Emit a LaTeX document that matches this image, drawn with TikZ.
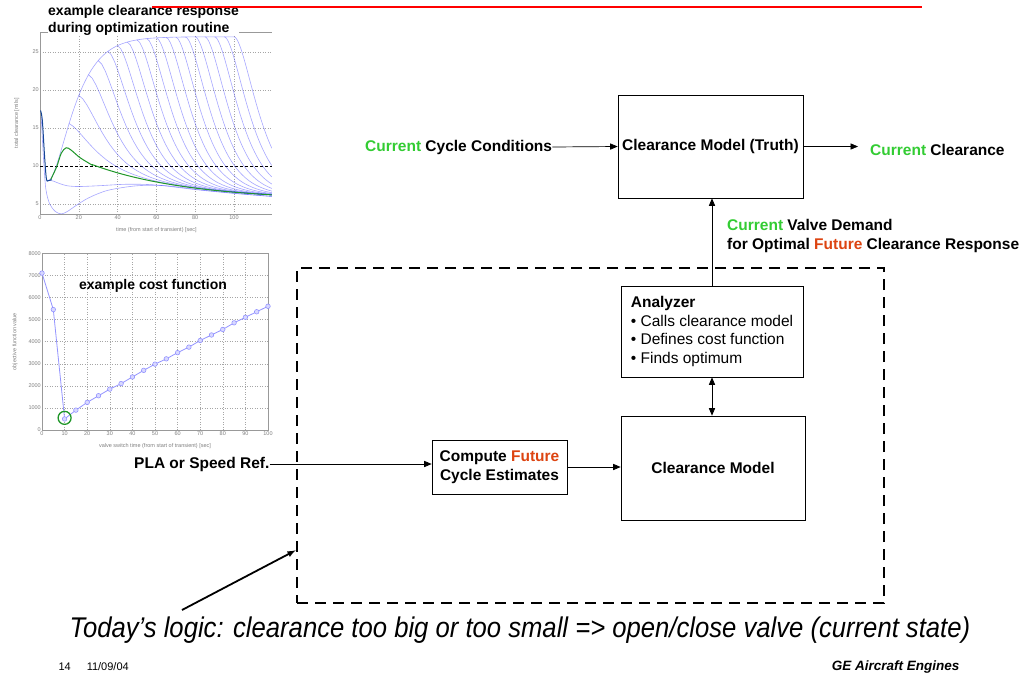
\documentclass[tikz,border=0pt]{standalone}
\usepackage{fontspec}
\setmainfont{Liberation Sans}
\newfontfamily\narrowsans[FakeStretch=0.9]{Liberation Sans}
\usetikzlibrary{arrows,shapes}

\definecolor{nowgreen}{RGB}{51,204,51}
\definecolor{futurered}{RGB}{221,68,17}
\definecolor{tracecol}{RGB}{60,60,255}
\definecolor{plotgreen}{RGB}{30,150,40}
\definecolor{startcol}{RGB}{20,70,150}
\newcommand{\diagfont}{\fontsize{15.5}{18.7}\selectfont}
\newcommand{\Now}{\textcolor{nowgreen}{Current}}
\newcommand{\Fut}{\textcolor{futurered}{Future}}

\tikzset{
  block/.style={draw, line width=0.7pt, inner sep=0pt, font=\diagfont\bfseries, align=center},
  tag/.style={inner sep=0pt, font=\diagfont\bfseries, align=left},
  flow/.style={->, >=triangle 45, line width=0.7pt},
  fence/.style={draw, line width=2.6pt, dash pattern=on 11pt off 7pt, inner sep=0pt},
  plottitle/.style={inner sep=0pt, font=\fontsize{14}{17}\selectfont\bfseries, align=left},
  gridline/.style={gray!70, line width=0.4pt, dash pattern=on 1pt off 1.5pt},
  axisline/.style={gray!80, line width=0.5pt},
  ticklbl/.style={inner sep=1pt, text=gray, font=\fontsize{5.5}{6}\selectfont},
  response/.style={tracecol, opacity=.45, line width=0.6pt},
  costdot/.style={draw=tracecol!60, fill=tracecol!20, line width=0.5pt},
  declare function={
    env(\x)=27-19*(1+(\x-4)/8)*exp(-(\x-4)/8);
    base(\x)=5.46+8.1*exp(-\x/50);
    drop(\x,\y)=base(\x)+(env(\y)-base(\y))*(1+(\x-\y)/8)*exp(-(\x-\y)/8);
  }
}

\begin{document}
\begin{tikzpicture}[x=1pt, y=-1pt]
  \fill[white] (0,0) rectangle (1026,681);
  \useasboundingbox (0,0) rectangle (1026,681);

  % clearance response plot
  \begin{scope}[shift={(40,242)}, x=1.94pt, y=7.6pt]
    \foreach \t in {20,40,...,100} \draw[gridline] (\t,3.6) -- (\t,27.6);
    \foreach \v in {5,15,20,25} \draw[gridline] (0,\v) -- (119.5,\v);
    \draw[axisline] (119.5,27.6) -- (0,27.6) -- (0,3.6) -- (119.5,3.6);
    \foreach \t in {0,20,...,100} \node[ticklbl, below] at (\t,3.6) {\t};
    \foreach \v in {5,10,...,25} \node[ticklbl, left] at (0,\v) {\v};
    \node[ticklbl, rotate=90] at (-12,15.6) {total clearance [mils]};
    \node[ticklbl] at (60,1.6) {time (from start of transient) [sec]};
    \begin{scope}
      \clip (0,3.6) rectangle (119.5,27.6);
      \draw[line width=0.7pt, dash pattern=on 3pt off 2pt] (0,10) -- (119.5,10);
      \draw[response] plot[domain=4:100, samples=70] (\x,{env(\x)});
      \foreach \s in {15,20,...,100}
        \draw[response] plot[domain=\s:119.5, samples=50] (\x,{drop(\x,\s)});
      % early switches
      \draw[response] plot[smooth] coordinates {(3.5,8) (5,8.1) (7,8) (10,7.7) (14,7.4) (20,7.3) (30,7.4) (45,7.6) (60,7.5) (80,6.9) (100,6.4) (119.5,6)};
      \draw[response] plot[smooth] coordinates {(0.6,16.5) (1.8,11) (3,7) (5,5) (8,4) (11,3.7) (14,4) (18,4.7) (25,5.8) (35,6.8) (50,7.4) (65,7.4) (85,6.8) (105,6.3) (119.5,6)};
      % chosen switch
      \draw[plotgreen, line width=1pt] plot[smooth] coordinates {(5.5,8.2) (8.6,9.9) (11,11.7) (13.5,12.4) (16,12.1) (20.6,11.1) (27,10.1)}
        -- plot[domain=27:119.5, samples=50] (\x,{base(\x)});
      \draw[startcol, line width=1pt] plot[smooth] coordinates {(0.3,17.3) (1.2,16) (2.3,11.5) (3.3,8.3) (4.5,8.1) (6,8.2)};
    \end{scope}
  \end{scope}
  \node[plottitle, anchor=west, fill=white, inner ysep=0pt] (resptitle) at (48,20) {example clearance response\\during optimization routine};
  \draw[red, line width=2pt] (152,7) -- (922,7);

  % cost function plot
  \begin{scope}[shift={(42,430)}, x=2.26pt, y=22.1pt]
    \foreach \t in {10,20,...,90} \draw[gridline] (\t,0) -- (\t,8);
    \foreach \v in {1,...,7} \draw[gridline] (0,\v) -- (100,\v);
    \draw[axisline] (0,0) rectangle (100,8);
    \foreach \t in {0,10,...,100} \node[ticklbl, below] at (\t,0) {\t};
    \foreach \v in {0,...,8} {
      \pgfmathtruncatemacro\lab{\v*1000}
      \node[ticklbl, left] at (0,\v) {\lab};
    }
    \node[ticklbl, rotate=90] at (-12,4) {objective function value};
    \node[ticklbl] at (50,-0.72) {valve switch time (from start of transient) [sec]};
    \draw[tracecol!55, line width=0.8pt] plot coordinates {(0,7.1) (5,5.45) (10,0.5) (15,0.9) (20,1.25) (25,1.55) (30,1.85) (35,2.1) (40,2.4) (45,2.7) (50,2.98) (55,3.22) (60,3.5) (65,3.75) (70,4.05) (75,4.3) (80,4.55) (85,4.85) (90,5.1) (95,5.35) (100,5.6)};
    \foreach \t/\c in {0/7.1, 5/5.45, 10/0.5, 15/0.9, 20/1.25, 25/1.55, 30/1.85, 35/2.1, 40/2.4, 45/2.7, 50/2.98, 55/3.22, 60/3.5, 65/3.75, 70/4.05, 75/4.3, 80/4.55, 85/4.85, 90/5.1, 95/5.35, 100/5.6}
      \draw[costdot] (\t,\c) circle (2.3pt);
    \draw[plotgreen, line width=1.3pt] (10,0.55) circle (6.5pt);
  \end{scope}
  \node[plottitle] (costtitle) at (153,286) {example cost function};

  % clearance loop
  \node[block, minimum width=185pt, minimum height=103pt] (truth) at (710.5,146.5) {Clearance Model (Truth)};
  \node[tag, anchor=west] (cond) at (365,147) {\Now{} Cycle Conditions};
  \node[tag, anchor=west] (clr) at (870,150) {\Now{} Clearance};
  \node[tag, anchor=north west] (demand) at (727,219) {\Now{} Valve Demand\\for Optimal \Fut{} Clearance Response};

  \node[fence, minimum width=587pt, minimum height=335pt] (today) at (590.5,435.5) {};
  \node[block, minimum width=182pt, minimum height=91pt, align=left, font=\diagfont] (anlz) at (712,331.5)
    {\textbf{Analyzer}\\• Calls clearance model\\• Defines cost function\\• Finds optimum};
  \node[block, minimum width=184pt, minimum height=104pt] (cmodel) at (713,468) {Clearance Model};
  \node[block, minimum width=135pt, minimum height=54pt] (comp) at (499.5,467) {Compute \Fut\\Cycle Estimates};
  \node[tag, anchor=west] (pla) at (134,464) {PLA or Speed Ref.};

  \draw[flow] (cond.east) -- (truth.west);
  \draw[flow, shorten >=12pt] (truth.east) -- (truth.east -| clr.west);
  \draw[flow] (anlz.north) -- (anlz.north |- truth.south);
  \draw[flow, <->] (anlz.south) -- (anlz.south |- cmodel.north);
  \draw[flow] (pla.east) -- (pla.east -| comp.west);
  \draw[flow] (comp.east) -- (comp.east -| cmodel.west);

  % note on today's logic
  \node[font=\narrowsans\itshape\fontsize{28.5}{30}\selectfont] (logic) at (520,630)
    {Today’s logic: clearance too big or too small => open/close valve (current state)};
  \coordinate (tail) at (182,610);
  \draw[->, >=latex, line width=1.8pt] (tail) -- ([yshift=54pt]today.south west);

  \node[anchor=west, font=\fontsize{11}{12}\selectfont] (page) at (55,667) {14\hspace{16pt}11/09/04};
  \node[anchor=east, font=\fontsize{13.5}{15}\selectfont\bfseries\itshape] (ge) at (963,667) {GE Aircraft Engines};
\end{tikzpicture}
\end{document}
